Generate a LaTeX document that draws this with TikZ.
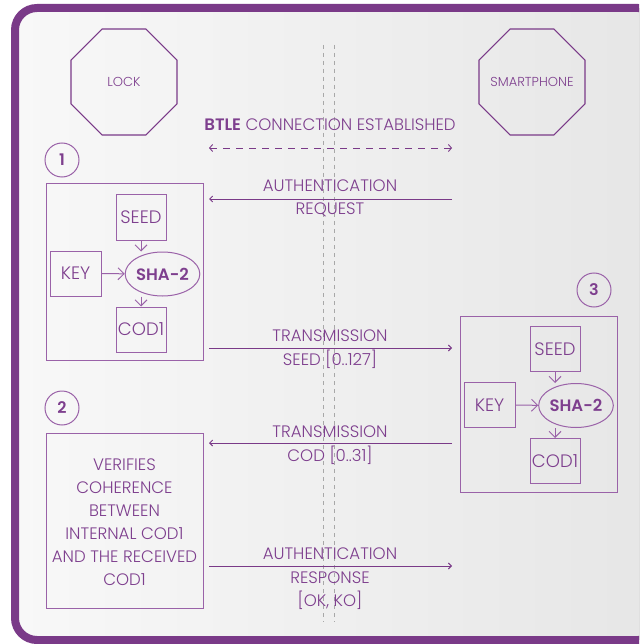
\documentclass[tikz,border=0pt]{standalone}
\usepackage{fontspec}
\setmainfont{Poppins Light}[BoldFont=Poppins SemiBold]
\usetikzlibrary{shapes.geometric,arrows.meta,calc}
\definecolor{pborder}{HTML}{7A3A88}
\definecolor{ptext}{HTML}{7E3F8E}
\definecolor{pline}{HTML}{9A62A8}
\definecolor{bglight}{HTML}{F8F8F8}
\definecolor{bgdark}{HTML}{E6E6E6}
\definecolor{dashgray}{HTML}{A8A8A8}
\tikzset{
  octo/.style={regular polygon, regular polygon sides=8, draw=pborder, line width=1.1pt,
    minimum size=114.7pt, inner sep=-30pt, text=ptext, font=\fontsize{13}{15}\selectfont},
  lbl/.style={text=ptext, font=\fontsize{16.6}{19}\selectfont, inner sep=0pt},
  bigbox/.style={draw=pline, line width=1pt, inner sep=0pt},
  smallbox/.style={draw=pline, line width=1pt, text=ptext, inner sep=0pt,
    minimum width=50pt, minimum height=45pt, font=\fontsize{18}{20}\selectfont},
  hash/.style={ellipse, draw=pline, line width=1pt, text=ptext, inner sep=0pt,
    minimum width=70pt, minimum height=44pt, font=\bfseries\fontsize{16.5}{18}\selectfont},
  numc/.style={circle, draw=pline, line width=1pt, text=ptext, minimum size=34pt,
    inner sep=0pt, font=\bfseries\fontsize{16}{18}\selectfont},
  msg/.style={draw=pborder, line width=0.9pt, -{Straight Barb[length=3pt,width=6pt]}},
  inarr/.style={draw=pline, line width=1pt, -{Straight Barb[length=6pt,width=12pt]}},
  vdash/.style={draw=dashgray, line width=0.8pt, dash pattern=on 4pt off 4pt},
}
\begin{document}
\begin{tikzpicture}[x=1pt,y=-1pt]
\useasboundingbox (0,0) rectangle (639,644);
\clip (0,0) rectangle (639,644);
% frame
\fill[left color=bglight, right color=bgdark, rounded corners=22pt] (15,8) rectangle (660,640);
\draw[pborder, line width=8pt, rounded corners=22pt] (15,8) rectangle (660,640);
% dashed verticals
\coordinate (va1) at (323,45); \coordinate (vb1) at (323,622);
\coordinate (va2) at (334,45); \coordinate (vb2) at (334,622);
\draw[vdash] (va1) -- (vb1);
\draw[vdash] (va2) -- (vb2);
% actors
\node[octo] (lock) at (124,82) {LOCK};
\node[octo] (phone) at (532,82) {SMARTPHONE};
% btle
\node[lbl] (btle) at (330,125) {\textbf{BTLE} CONNECTION ESTABLISHED};
\coordinate (bl) at (209,148); \coordinate (br) at (452,148);
\draw[pborder, line width=0.9pt, dash pattern=on 7pt off 6pt,
  {Straight Barb[length=3pt,width=7pt]}-{Straight Barb[length=3pt,width=7pt]}] (bl) -- (br);
% step 1
\node[numc] (n1) at (62,160) {1};
\node[bigbox, minimum width=157pt, minimum height=176pt] (box1) at (124.5,272) {};
\node[smallbox] (seed1) at (141,217.5) {SEED};
\node[smallbox, minimum width=51pt] (key1) at (75.5,273.5) {KEY};
\node[hash] (sha1) at (162.5,274) {SHA-2};
\node[smallbox] (cod1) at (141,329.5) {COD1};
\draw[inarr] (seed1) -- (seed1 |- sha1.north);
\draw[inarr] (key1) -- (sha1);
\draw[inarr] (cod1 |- sha1.south) -- (cod1);
% step 3
\node[numc] (n3) at (594,290) {3};
\node[bigbox, minimum width=157pt, minimum height=176pt] (box3) at (538.5,404) {};
\node[smallbox] (seed3) at (555,349) {SEED};
\node[smallbox, minimum width=51pt] (key3) at (489.5,405) {KEY};
\node[hash] (sha3) at (576,405.5) {SHA-2};
\node[smallbox] (cod3) at (555,461) {COD1};
\draw[inarr] (seed3) -- (seed3 |- sha3.north);
\draw[inarr] (key3) -- (sha3);
\draw[inarr] (cod3 |- sha3.south) -- (cod3);
% step 2
\node[numc] (n2) at (62,408) {2};
\node[bigbox, minimum width=157pt, minimum height=175pt] (box2) at (124.5,520.5) {};
\node[lbl, align=center, font=\fontsize{16.6}{23}\selectfont] (verif) at (124.5,522.5)
  {VERIFIES\\COHERENCE\\BETWEEN\\INTERNAL COD1\\AND THE RECEIVED\\COD1};
% messages
\coordinate (m1l) at (209,199); \coordinate (m1r) at (452,199);
\draw[msg] (m1r) -- (m1l);
\node[lbl] (m1a) at (330,186) {AUTHENTICATION};
\node[lbl] (m1b) at (330,209.5) {REQUEST};
\coordinate (m2l) at (209,348); \coordinate (m2r) at (452,348);
\draw[msg] (m2l) -- (m2r);
\node[lbl] (m2a) at (330,336) {TRANSMISSION};
\node[lbl] (m2b) at (330,359.5) {SEED [0..127]};
\coordinate (m3l) at (209,443); \coordinate (m3r) at (452,443);
\draw[msg] (m3r) -- (m3l);
\node[lbl] (m3a) at (330,432) {TRANSMISSION};
\node[lbl] (m3b) at (330,455.5) {COD [0..31]};
\coordinate (m4l) at (209,566); \coordinate (m4r) at (452,566);
\draw[msg] (m4l) -- (m4r);
\node[lbl] (m4a) at (330,554) {AUTHENTICATION};
\node[lbl] (m4b) at (330,577.5) {RESPONSE};
\node[lbl] (m4c) at (330,600.5) {[OK, KO]};
\end{tikzpicture}
\end{document}
